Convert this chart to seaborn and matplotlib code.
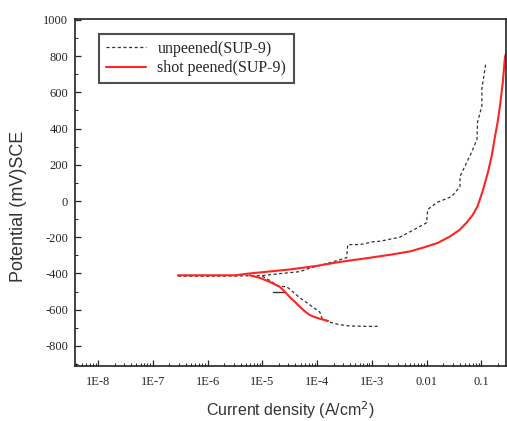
import numpy as np
import pandas as pd
import seaborn as sns
import matplotlib
matplotlib.use("Agg")
import matplotlib.pyplot as plt
from matplotlib.ticker import FixedLocator, FixedFormatter, MultipleLocator, LogLocator, NullFormatter

sns.set_style("ticks")

# log10 current density and potential (mV)
unpeened_anodic_logi = [-6.54, -6.0, -5.5, -5.0, -4.65, -4.31, -4.13, -3.77, -3.46, -3.44, -3.2, -2.98, -2.85, -2.49, -2.18, -2.00, -1.98, -1.81, -1.54, -1.39, -1.39, -1.30, -1.18, -1.08, -1.07, -0.99, -0.99, -0.92]
unpeened_anodic_mv = [-415, -415, -414, -412, -400, -390, -370, -341, -313, -241, -240, -225, -222, -200, -150, -120, -47, -8, 25, 80, 136, 192, 268, 340, 435, 525, 620, 758]
unpeened_cathodic_logi = [-5.0, -4.86, -4.70, -4.55, -4.31, -4.13, -3.95, -3.91, -3.80, -3.60, -3.40, -3.10, -2.85]
unpeened_cathodic_mv = [-415, -440, -470, -474, -535, -574, -613, -647, -667, -682, -690, -692, -692]
unpeened_step_logi = [-4.81, -4.59]
unpeened_step_mv = [-502, -502]

peened_anodic_logi = [-6.54, -6.0, -5.5, -5.23, -4.90, -4.50, -4.00, -3.58, -3.10, -2.67, -2.30, -2.07, -1.80, -1.58, -1.40, -1.27, -1.16, -1.07, -0.97, -0.88, -0.81, -0.76, -0.70, -0.66, -0.61, -0.57, -0.555]
peened_anodic_mv = [-410, -410, -410, -400, -390, -378, -358, -336, -316, -297, -278, -258, -232, -197, -160, -120, -78, -30, 60, 158, 250, 340, 440, 525, 650, 790, 810]
peened_cathodic_logi = [-5.23, -5.04, -4.86, -4.68, -4.59, -4.50, -4.40, -4.31, -4.22, -4.13, -4.04, -3.95, -3.80]
peened_cathodic_mv = [-410, -425, -447, -474, -500, -530, -558, -585, -610, -630, -641, -650, -662]

xtick_vals = [1e-8, 1e-7, 1e-6, 1e-5, 1e-4, 1e-3, 1e-2, 1e-1]
xtick_labels = ["1E-8", "1E-7", "1E-6", "1E-5", "1E-4", "1E-3", "0.01", "0.1"]
ytick_vals = [-800, -600, -400, -200, 0, 200, 400, 600, 800, 1000]
ytick_labels = ["-800", "-600", "-400", "-200", "0", "200", "400", "600", "800", "1000"]

fig = plt.figure(figsize=(5.07, 4.21), dpi=100)
ax = fig.add_axes([0.148, 0.131, 0.850, 0.824])

def seg(logi, mv):
    return pd.DataFrame({"i": 10 ** np.array(logi, dtype=float), "E": mv})

black = "#333333"
red = "#ff2424"
dash = (0, (2.5, 2))
sns.lineplot(data=seg(unpeened_anodic_logi, unpeened_anodic_mv), x="i", y="E", sort=False,
             estimator=None, ax=ax, color=black, lw=0.9, linestyle=dash, label="unpeened(SUP-9)")
sns.lineplot(data=seg(unpeened_cathodic_logi, unpeened_cathodic_mv), x="i", y="E", sort=False,
             estimator=None, ax=ax, color=black, lw=0.9, linestyle=dash, label="_nolegend_")
sns.lineplot(data=seg(unpeened_step_logi, unpeened_step_mv), x="i", y="E", sort=False,
             estimator=None, ax=ax, color=black, lw=1.0, label="_nolegend_")
sns.lineplot(data=seg(peened_anodic_logi, peened_anodic_mv), x="i", y="E", sort=False,
             estimator=None, ax=ax, color=red, lw=1.5, label="shot peened(SUP-9)")
sns.lineplot(data=seg(peened_cathodic_logi, peened_cathodic_mv), x="i", y="E", sort=False,
             estimator=None, ax=ax, color=red, lw=1.5, label="_nolegend_")

ax.set_xscale("log")
ax.set_xlim(10 ** -8.42, 10 ** -0.55)
ax.set_ylim(-910, 1005)

serif = "Liberation Serif"
ax.xaxis.set_major_locator(FixedLocator(xtick_vals))
ax.xaxis.set_major_formatter(FixedFormatter(xtick_labels))
ax.xaxis.set_minor_locator(LogLocator(base=10, subs=np.arange(2, 10) * 1.0, numticks=50))
ax.xaxis.set_minor_formatter(NullFormatter())
ax.yaxis.set_major_locator(FixedLocator(ytick_vals))
ax.yaxis.set_major_formatter(FixedFormatter(ytick_labels))
ax.yaxis.set_minor_locator(MultipleLocator(100))

ax.tick_params(which="both", direction="in", top=False, right=False)
ax.tick_params(which="major", length=4, width=0.9, labelsize=9)
ax.tick_params(axis="y", which="major", pad=5)
ax.tick_params(axis="x", which="major", pad=7)
ax.tick_params(which="minor", length=2, width=0.7)
for lab in ax.get_xticklabels() + ax.get_yticklabels():
    lab.set_fontfamily(serif)

for s in ax.spines.values():
    s.set_linewidth(1.2)
    s.set_color("#222222")

ax.set_xlabel("Current density (A/cm$^2$)", fontsize=11.5, family="Liberation Sans", color="#333333")
ax.set_ylabel("Potential (mV)SCE", fontsize=13, family="Liberation Sans", color="#333333")
ax.xaxis.set_label_coords(0.499, -0.096)
ax.yaxis.set_label_coords(-0.112, 0.461)

leg = ax.legend(loc="upper left", bbox_to_anchor=(0.056, 0.957), prop={"family": serif, "size": 11.5},
                frameon=True, fancybox=False, edgecolor="#222222", handlelength=2.5, handletextpad=0.7,
                borderpad=0.45, labelspacing=0.2, borderaxespad=0)
leg.get_frame().set_linewidth(1.5)

fig.savefig("out.png", dpi=100)
